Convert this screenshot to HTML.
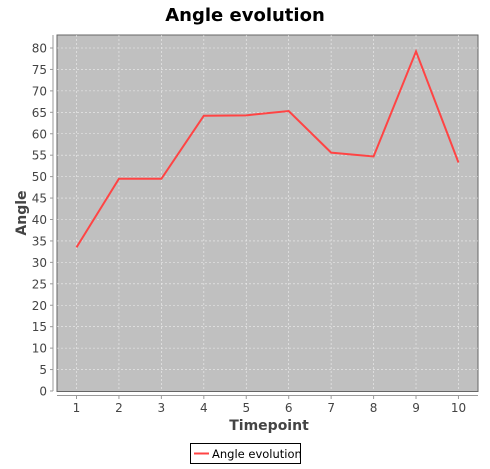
<!DOCTYPE html>
<html><head><meta charset="utf-8"><style>
body{margin:0;background:#fff;font-family:"DejaVu Sans","Liberation Sans",sans-serif;}
</style></head><body>
<svg width="490" height="465" xmlns="http://www.w3.org/2000/svg" font-family="DejaVu Sans, Liberation Sans, sans-serif">
<rect width="490" height="465" fill="#fff"/>
<text x="245" y="21" text-anchor="middle" font-size="18" font-weight="bold" fill="#000">Angle evolution</text>
<rect x="57" y="35" width="421" height="356.5" fill="#c0c0c0" stroke="#666"/>
<g id="grid"></g>
<line x1="53" y1="35" x2="53" y2="391" stroke="#999"/>
<line x1="57" y1="395.5" x2="478" y2="395.5" stroke="#999"/>
<g id="yticks" font-size="12" fill="#444"></g>
<g id="xticks" font-size="12" fill="#444"></g>
<text x="269" y="430" text-anchor="middle" font-size="14" font-weight="bold" fill="#444">Timepoint</text>
<text transform="translate(26,213) rotate(-90)" text-anchor="middle" font-size="14" font-weight="bold" fill="#444">Angle</text>
<path id="line" fill="none" stroke="#ff4444" stroke-width="2"/>
<g>
<rect x="190.5" y="443.5" width="110" height="20" fill="#fff" stroke="#000"/>
<line x1="194" y1="453.5" x2="209" y2="453.5" stroke="#ff4444" stroke-width="2"/>
<text x="212" y="458" font-size="11.5" fill="#000">Angle evolution</text>
</g>
</svg>
<script>
const categories=[1,2,3,4,5,6,7,8,9,10];
const values=[33.5,49.5,49.5,64.2,64.3,65.3,55.6,54.7,79.2,53.3];
const yTicks=[0,5,10,15,20,25,30,35,40,45,50,55,60,65,70,75,80];
const NS="http://www.w3.org/2000/svg";
const xs=c=>76.5+(c-1)*42.44;
const ys=v=>391-v*(343/80);
const grid=document.getElementById('grid'),yt=document.getElementById('yticks'),xt=document.getElementById('xticks');
function mk(t,a,p){const e=document.createElementNS(NS,t);for(const k in a)e.setAttribute(k,a[k]);p.appendChild(e);return e;}
yTicks.forEach(v=>{const y=ys(v);
 if(v>0){const g=mk('line',{x1:57,x2:478,y1:y,y2:y,stroke:'#eee','stroke-dasharray':'2,2','stroke-width':0.6},grid);
 
 }
 mk('line',{x1:50,x2:53,y1:y,y2:y,stroke:'#999'},yt);
 const t=mk('text',{x:47,y:y+4.5,'text-anchor':'end'},yt);t.textContent=v;
 
 });
categories.forEach(c=>{const x=xs(c);
 const g=mk('line',{x1:x,x2:x,y1:35,y2:391,stroke:'#eee','stroke-dasharray':'2,2','stroke-width':0.6},grid);
 
 
 mk('line',{x1:x,x2:x,y1:395,y2:399,stroke:'#999'},xt);
 const t=mk('text',{x:x,y:412,'text-anchor':'middle'},xt);t.textContent=c;
 
 });
document.getElementById('line').setAttribute('d',values.map((v,i)=>(i?'L':'M')+xs(categories[i])+','+ys(v)).join(''));
</script>
</body></html>
